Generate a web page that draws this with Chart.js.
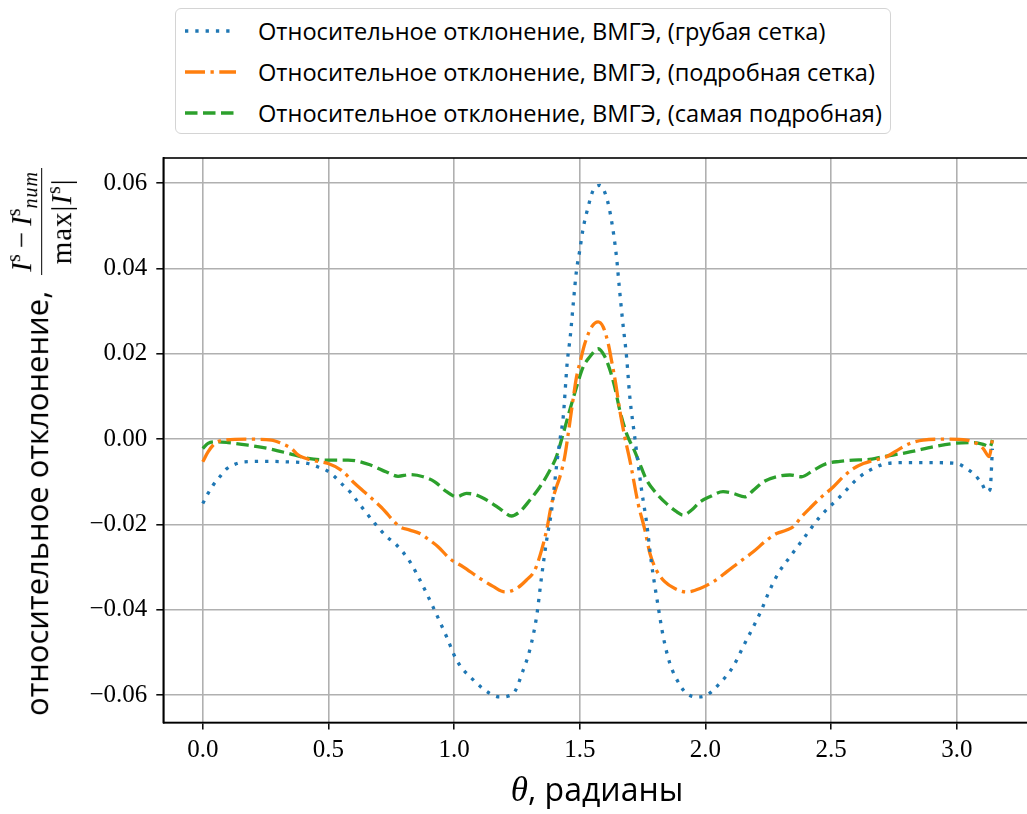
<!DOCTYPE html>
<html>
<head>
<meta charset="utf-8">
<script src="https://cdn.jsdelivr.net/npm/chart.js@4.4.1/dist/chart.umd.min.js"></script>
<style>
  html, body { margin: 0; padding: 0; background: #fff; overflow: hidden; }
  #wrap { position: relative; width: 1027px; height: 814px; overflow: hidden; }
  #c { position: absolute; left: 0; top: 0; }
  .legend {
    position: absolute; left: 175px; top: 8px; width: 716px; height: 126px;
    border: 1.5px solid #d4d4d4; border-radius: 6px; background: #fff; box-sizing: border-box;
    font-family: "Open Sans", sans-serif; font-size: 23.6px; color: #000;
  }
  .row { position: absolute; left: 0; height: 32px; display: flex; align-items: center; white-space: nowrap; }
  .row svg { margin-left: 9px; margin-right: 22px; }
  .ylab {
    position: absolute; left: 40px; top: 442px; white-space: nowrap;
    transform: translate(-50%, -50%) rotate(-90deg);
    font-family: "Open Sans", sans-serif; font-size: 31px; color: #000;
  }
  .frac { display: inline-flex; flex-direction: column; align-items: center; vertical-align: middle;
    font-family: "Liberation Serif", serif; font-size: 29px; line-height: 0.95; margin-left: 8px; }
  .frac .num { padding: 0 3px 1px; border-bottom: 1.4px solid #000; }
  .frac .den { padding-top: 2px; letter-spacing: 1px; }
  .frac sup, .frac sub { font-size: 20px; }
  .frac sub { letter-spacing: 1px; }
  .frac .op { margin: 0 6px; }
  .xlab {
    position: absolute; left: 0; width: 1194px; top: 767px; text-align: center; white-space: nowrap;
    font-family: "Open Sans", sans-serif; font-size: 32px; color: #000;
  }
  .xlab i { font-family: "Liberation Serif", serif; font-size: 35px; }
</style>
</head>
<body>
<div id="wrap">
  <canvas id="c" width="1040" height="814"></canvas>
  <div class="legend" id="legend"></div>
  <div class="ylab">относительное отклонение, <span class="frac"><span class="num"><i>I</i><sup>s</sup><span class="op">−</span><i>I</i><sup>s</sup><sub><i>num</i></sub></span><span class="den">max|<i>I</i><sup>s</sup>|</span></span></div>
  <div class="xlab"><i>θ</i>, радианы</div>
</div>
<script>
// значения (theta в радианах, отклонение безразмерное)
const thetaCoarse = [0, 0.021, 0.041, 0.068, 0.094, 0.127, 0.167, 0.25, 0.33, 0.419, 0.459, 0.492, 0.525, 0.552, 0.585,
  0.631, 0.684, 0.731, 0.771, 0.824, 0.864, 0.916, 0.970, 1.010, 1.076, 1.142, 1.182, 1.235, 1.275, 1.301, 1.328, 1.348,
  1.368, 1.388, 1.407, 1.420, 1.434, 1.450, 1.462, 1.474, 1.487, 1.500, 1.513, 1.533, 1.553, 1.580, 1.606, 1.626, 1.646,
  1.657, 1.670, 1.686, 1.699, 1.719, 1.746, 1.766, 1.785, 1.812, 1.832, 1.858, 1.898, 1.925, 1.964, 2.004, 2.057, 2.110,
  2.150, 2.190, 2.223, 2.250, 2.289, 2.336, 2.395, 2.455, 2.535, 2.614, 2.681, 2.720, 2.80, 2.90, 2.999, 3.039, 3.072,
  3.099, 3.119, 3.132, 3.1416];
const devCoarse = [-0.0151, -0.0127, -0.0108, -0.0088, -0.0070, -0.0059, -0.0053, -0.0052, -0.0053, -0.0057, -0.0065,
  -0.0073, -0.0088, -0.0104, -0.0123, -0.0158, -0.0197, -0.0228, -0.0248, -0.0287, -0.0330, -0.0393, -0.0463, -0.0518,
  -0.0564, -0.0596, -0.0604, -0.0596, -0.0541, -0.0494, -0.0416, -0.0322, -0.0237, -0.0166, -0.0065, -0.0005, 0.0052,
  0.0180, 0.0240, 0.0318, 0.0396, 0.0443, 0.0493, 0.0544, 0.0583, 0.0595, 0.0567, 0.0513, 0.0427, 0.0357, 0.0279, 0.0193,
  0.0099, 0.0003, -0.0120, -0.0197, -0.0290, -0.0393, -0.0463, -0.0525, -0.0576, -0.0596, -0.0604, -0.0600, -0.0572,
  -0.0533, -0.0486, -0.0440, -0.0400, -0.0361, -0.0315, -0.0276, -0.0229, -0.0182, -0.0135, -0.0088, -0.0065, -0.0057,
  -0.0055, -0.0055, -0.0057, -0.0069, -0.0084, -0.0104, -0.0123, -0.0118, -0.0022];

const thetaFine = [0, 0.021, 0.048, 0.088, 0.18, 0.273, 0.313, 0.353, 0.379, 0.432, 0.499, 0.552, 0.605, 0.665, 0.711,
  0.784, 0.824, 0.864, 0.903, 0.936, 0.983, 1.036, 1.102, 1.155, 1.202, 1.248, 1.288, 1.321, 1.348, 1.368, 1.388, 1.407,
  1.421, 1.440, 1.454, 1.471, 1.487, 1.503, 1.520, 1.547, 1.573, 1.593, 1.613, 1.626, 1.643, 1.659, 1.679, 1.699, 1.706,
  1.732, 1.759, 1.779, 1.805, 1.838, 1.878, 1.925, 1.978, 2.031, 2.084, 2.137, 2.190, 2.243, 2.283, 2.323, 2.349, 2.382,
  2.415, 2.455, 2.508, 2.548, 2.588, 2.628, 2.667, 2.721, 2.774, 2.813, 2.866, 2.95, 3.039, 3.079, 3.105, 3.129, 3.1416];
const devFine = [-0.0053, -0.0030, -0.0010, -0.0002, 0.0000, -0.0002, -0.0010, -0.0022, -0.0037, -0.0049, -0.0057,
  -0.0073, -0.0104, -0.0135, -0.0160, -0.0205, -0.0213, -0.0221, -0.0237, -0.0252, -0.0280, -0.0299, -0.0326, -0.0345,
  -0.0358, -0.0350, -0.0330, -0.0307, -0.0260, -0.0213, -0.0151, -0.0112, -0.0088, -0.0041, 0.0013, 0.0084, 0.0146,
  0.0185, 0.0224, 0.0263, 0.0275, 0.0263, 0.0224, 0.0185, 0.0130, 0.0068, 0.0005, -0.0049, -0.0070, -0.0151, -0.0213,
  -0.0268, -0.0307, -0.0334, -0.0350, -0.0358, -0.0350, -0.0334, -0.0311, -0.0287, -0.0264, -0.0237, -0.0221, -0.0213,
  -0.0205, -0.0182, -0.0162, -0.0139, -0.0112, -0.0088, -0.0069, -0.0057, -0.0050, -0.0041, -0.0022, -0.0010, -0.0002,
  0.0000, -0.0002, -0.0010, -0.0022, -0.0041, 0.0000];

const thetaFinest = [0, 0.021, 0.054, 0.101, 0.18, 0.26, 0.339, 0.419, 0.499, 0.578, 0.665, 0.731, 0.777, 0.824, 0.877,
  0.923, 0.970, 1.010, 1.049, 1.089, 1.142, 1.189, 1.228, 1.261, 1.301, 1.341, 1.381, 1.407, 1.434, 1.460, 1.487, 1.513,
  1.540, 1.573, 1.600, 1.620, 1.639, 1.659, 1.686, 1.699, 1.712, 1.735, 1.766, 1.805, 1.845, 1.885, 1.911, 1.945, 1.978,
  2.017, 2.070, 2.110, 2.157, 2.190, 2.230, 2.283, 2.336, 2.382, 2.429, 2.482, 2.535, 2.588, 2.641, 2.707, 2.813, 2.906,
  2.986, 3.065, 3.105, 3.132, 3.1416];
const devFinest = [-0.0022, -0.0010, -0.0006, -0.0008, -0.0014, -0.0022, -0.0033, -0.0045, -0.0049, -0.0049, -0.0060,
  -0.0077, -0.0087, -0.0083, -0.0088, -0.0100, -0.0123, -0.0135, -0.0127, -0.0131, -0.0147, -0.0166, -0.0180, -0.0170,
  -0.0143, -0.0112, -0.0073, -0.0041, 0.0013, 0.0068, 0.0122, 0.0169, 0.0193, 0.0212, 0.0193, 0.0162, 0.0122, 0.0068,
  0.0013, -0.0005, -0.0020, -0.0052, -0.0096, -0.0127, -0.0151, -0.0170, -0.0178, -0.0166, -0.0147, -0.0135, -0.0123,
  -0.0127, -0.0135, -0.0120, -0.0100, -0.0088, -0.0084, -0.0088, -0.0073, -0.0057, -0.0052, -0.0049, -0.0048, -0.0041,
  -0.0030, -0.0018, -0.0010, -0.0008, -0.0012, -0.0018, -0.0002];

const xTicks = [0, 0.5, 1.0, 1.5, 2.0, 2.5, 3.0];
const yTicks = [-0.06, -0.04, -0.02, 0.00, 0.02, 0.04, 0.06];

const seriesNames = [
  'Относительное отклонение, ВМГЭ, (грубая сетка)',
  'Относительное отклонение, ВМГЭ, (подробная сетка)',
  'Относительное отклонение, ВМГЭ, (самая подробная)'
];
const seriesColors = ['#1f77b4', '#ff7f0e', '#2ca02c'];
const seriesDash = [[3.3, 7], [20, 5.5, 3.3, 5.5], [12.5, 5.5]];

const toPts = (xs, ys) => xs.map((x, i) => ({ x, y: ys[i] }));
const fmtNum = (v, d) => v.toFixed(d).replace('-', '−');

// легенда в html, чтобы были пунктирные образцы линий
const leg = document.getElementById('legend');
seriesNames.forEach((name, i) => {
  const row = document.createElement('div');
  row.className = 'row';
  row.style.top = (6 + i * 41) + 'px';
  row.innerHTML = `<svg width="51" height="10"><line x1="0" y1="5" x2="51" y2="5" stroke="${seriesColors[i]}"
    stroke-width="3.3" stroke-dasharray="${seriesDash[i].join(' ')}"/></svg><span>${name}</span>`;
  leg.appendChild(row);
});

const frame = {
  id: 'frame',
  afterDatasetsDraw(chart) {
    const a = chart.chartArea, ctx = chart.ctx;
    ctx.save();
    ctx.strokeStyle = '#000';
    ctx.lineWidth = 1.6;
    ctx.strokeRect(a.left, a.top, a.right - a.left, a.bottom - a.top);
    ctx.restore();
  }
};

const grid = { color: '#b0b0b0', lineWidth: 1.6, tickColor: '#000', tickLength: 7, tickWidth: 1.5 };

new Chart(document.getElementById('c'), {
  type: 'line',
  data: {
    datasets: [
      { data: toPts(thetaCoarse, devCoarse) },
      { data: toPts(thetaFine, devFine) },
      { data: toPts(thetaFinest, devFinest) }
    ].map((d, i) => Object.assign(d, {
      label: seriesNames[i],
      borderColor: seriesColors[i],
      borderWidth: 3.3,
      borderDash: seriesDash[i],
      pointRadius: 0,
      fill: false,
      cubicInterpolationMode: 'monotone'
    }))
  },
  options: {
    responsive: false,
    animation: false,
    devicePixelRatio: 1,
    layout: { padding: { left: 0, top: 158, right: 8, bottom: 0 } },
    plugins: { legend: { display: false }, tooltip: { enabled: false } },
    scales: {
      x: {
        type: 'linear', min: -0.157, max: 3.299,
        afterBuildTicks: s => { s.ticks = xTicks.map(v => ({ value: v })); },
        afterFit: s => { s.height = 91.5; },
        grid, border: { color: '#000', width: 1.6 },
        ticks: { padding: 6, color: '#000', font: { family: 'Liberation Serif', size: 25 },
          callback: v => fmtNum(v, 1) }
      },
      y: {
        min: -0.0664, max: 0.0659,
        afterBuildTicks: s => { s.ticks = yTicks.map(v => ({ value: v })); },
        afterFit: s => { s.width = 163.3; },
        grid, border: { color: '#000', width: 1.6 },
        ticks: { padding: 9, color: '#000', font: { family: 'Liberation Serif', size: 25 },
          callback: v => fmtNum(v, 2) }
      }
    }
  },
  plugins: [frame]
});
</script>
</body>
</html>
